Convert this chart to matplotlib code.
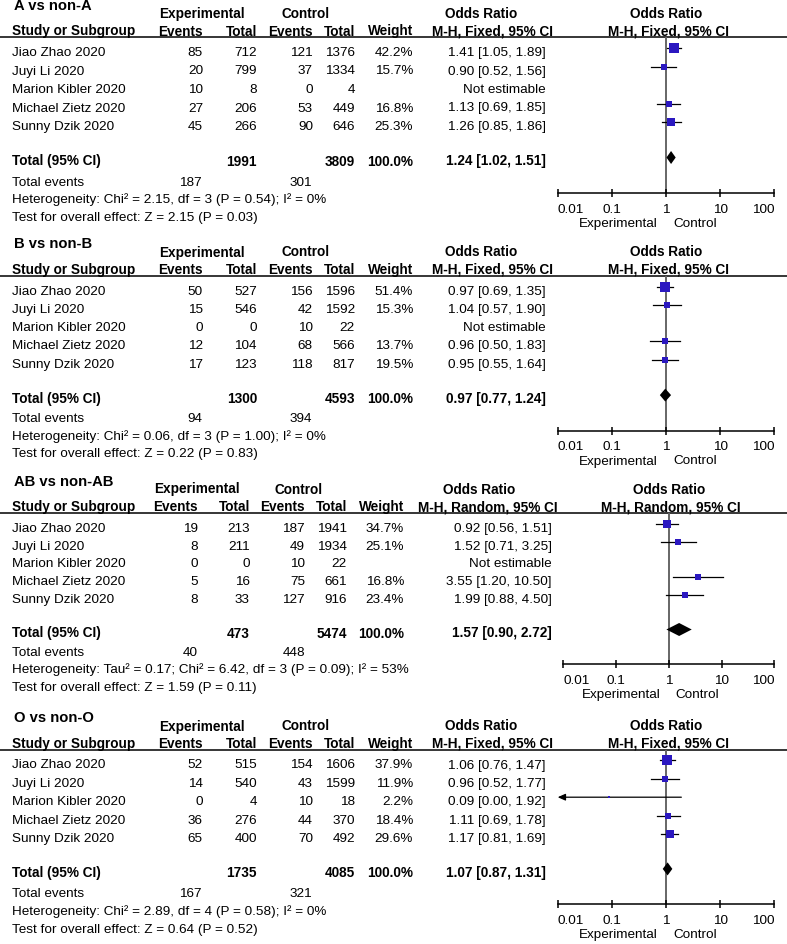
import matplotlib
matplotlib.use('Agg')
import matplotlib.pyplot as plt

plt.rcParams['font.family'] = ['Liberation Sans', 'DejaVu Sans']

W, H = 787, 944
FS = 9.7      # regular text
FS_B = 9.8    # bold headers
FS_T = 10.6   # panel titles
BLUE = '#2b18c0'

studies = ['Jiao Zhao 2020', 'Juyi Li 2020', 'Marion Kibler 2020',
           'Michael Zietz 2020', 'Sunny Dzik 2020']

# ---- A vs non-A
a_exp_events = [85, 20, 10, 27, 45]
a_exp_total = [712, 799, 8, 206, 266]
a_ctl_events = [121, 37, 0, 53, 90]
a_ctl_total = [1376, 1334, 4, 449, 646]
a_weight = [42.2, 15.7, None, 16.8, 25.3]
a_or = [1.41, 0.90, None, 1.13, 1.26]
a_lo = [1.05, 0.52, None, 0.69, 0.85]
a_hi = [1.89, 1.56, None, 1.85, 1.86]
a_total = [1991, 3809, 1.24, 1.02, 1.51]
a_events = [187, 301]
a_het = 'Heterogeneity: Chi² = 2.15, df = 3 (P = 0.54); I² = 0%'
a_test = 'Test for overall effect: Z = 2.15 (P = 0.03)'

# ---- B vs non-B
b_exp_events = [50, 15, 0, 12, 17]
b_exp_total = [527, 546, 0, 104, 123]
b_ctl_events = [156, 42, 10, 68, 118]
b_ctl_total = [1596, 1592, 22, 566, 817]
b_weight = [51.4, 15.3, None, 13.7, 19.5]
b_or = [0.97, 1.04, None, 0.96, 0.95]
b_lo = [0.69, 0.57, None, 0.50, 0.55]
b_hi = [1.35, 1.90, None, 1.83, 1.64]
b_total = [1300, 4593, 0.97, 0.77, 1.24]
b_events = [94, 394]
b_het = 'Heterogeneity: Chi² = 0.06, df = 3 (P = 1.00); I² = 0%'
b_test = 'Test for overall effect: Z = 0.22 (P = 0.83)'

# ---- AB vs non-AB
ab_exp_events = [19, 8, 0, 5, 8]
ab_exp_total = [213, 211, 0, 16, 33]
ab_ctl_events = [187, 49, 10, 75, 127]
ab_ctl_total = [1941, 1934, 22, 661, 916]
ab_weight = [34.7, 25.1, None, 16.8, 23.4]
ab_or = [0.92, 1.52, None, 3.55, 1.99]
ab_lo = [0.56, 0.71, None, 1.20, 0.88]
ab_hi = [1.51, 3.25, None, 10.50, 4.50]
ab_total = [473, 5474, 1.57, 0.90, 2.72]
ab_events = [40, 448]
ab_het = 'Heterogeneity: Tau² = 0.17; Chi² = 6.42, df = 3 (P = 0.09); I² = 53%'
ab_test = 'Test for overall effect: Z = 1.59 (P = 0.11)'

# ---- O vs non-O
o_exp_events = [52, 14, 0, 36, 65]
o_exp_total = [515, 540, 4, 276, 400]
o_ctl_events = [154, 43, 10, 44, 70]
o_ctl_total = [1606, 1599, 18, 370, 492]
o_weight = [37.9, 11.9, 2.2, 18.4, 29.6]
o_or = [1.06, 0.96, 0.09, 1.11, 1.17]
o_lo = [0.76, 0.52, 0.00, 0.69, 0.81]
o_hi = [1.47, 1.77, 1.92, 1.78, 1.69]
o_total = [1735, 4085, 1.07, 0.87, 1.31]
o_events = [167, 321]
o_het = 'Heterogeneity: Chi² = 2.89, df = 4 (P = 0.58); I² = 0%'
o_test = 'Test for overall effect: Z = 0.64 (P = 0.52)'

ticks = [0.01, 0.1, 1, 10, 100]
tick_labels = ['0.01', '0.1', '1', '10', '100']

# column anchors (pixels): right edges of numeric columns, centres of headers
COLS_FIXED = dict(ee=203, et=257, ce=313, ct=355, w=413, orr=546,
                  exp=202, ctl=306, orh=481, mh=492, fh=666, fm=668,
                  tee=202, tce=312, fx0=557.7, fx1=774.3)
COLS_RANDOM = dict(ee=198, et=250, ce=305, ct=347, w=404, orr=552,
                   exp=197, ctl=299, orh=479, mh=488, fh=669, fm=671,
                   tee=198, tce=305, fx0=563.3, fx1=774.3)

panels = [
    dict(title='A vs non-A', ee=a_exp_events, et=a_exp_total, ce=a_ctl_events,
         ct=a_ctl_total, w=a_weight, est=a_or, lo=a_lo, hi=a_hi, tot=a_total,
         ev=a_events, het=a_het, test=a_test, method='M-H, Fixed, 95% CI',
         cols=COLS_FIXED, ly=37, rows=(19, 18.5), offs=(128.5, 148.5, 166, 184.5),
         ax_y=156, sq=1.1),
    dict(title='B vs non-B', ee=b_exp_events, et=b_exp_total, ce=b_ctl_events,
         ct=b_ctl_total, w=b_weight, est=b_or, lo=b_lo, hi=b_hi, tot=b_total,
         ev=b_events, het=b_het, test=b_test, method='M-H, Fixed, 95% CI',
         cols=COLS_FIXED, ly=275.5, rows=(19.3, 18.2), offs=(127.6, 146.6, 164.3, 182),
         ax_y=155, sq=1.1),
    dict(title='AB vs non-AB', ee=ab_exp_events, et=ab_exp_total, ce=ab_ctl_events,
         ct=ab_ctl_total, w=ab_weight, est=ab_or, lo=ab_lo, hi=ab_hi, tot=ab_total,
         ev=ab_events, het=ab_het, test=ab_test, method='M-H, Random, 95% CI',
         cols=COLS_RANDOM, ly=512.5, rows=(19.4, 17.75), offs=(125, 144, 161, 179),
         ax_y=151.5, sq=0.95),
    dict(title='O vs non-O', ee=o_exp_events, et=o_exp_total, ce=o_ctl_events,
         ct=o_ctl_total, w=o_weight, est=o_or, lo=o_lo, hi=o_hi, tot=o_total,
         ev=o_events, het=o_het, test=o_test, method='M-H, Fixed, 95% CI',
         cols=COLS_FIXED, ly=749.5, rows=(19, 18.35), offs=(127.4, 147.4, 165.7, 184),
         ax_y=154.5, sq=1.1),
]


def ci_text(e, l, h):
    return f'{e:.2f} [{l:.2f}, {h:.2f}]'


def draw_panel(fig, bg, p):
    c = p['cols']
    ly = p['ly']
    kw = dict(va='baseline', fontsize=FS)
    kb = dict(va='baseline', fontsize=FS_B, fontweight='bold')

    # titles and headers
    bg.text(14, ly - 27, p['title'], va='baseline', fontsize=FS_T, fontweight='bold')
    bg.text(c['exp'], ly - 19, 'Experimental', ha='center', **kb)
    bg.text(c['ctl'], ly - 19, 'Control', ha='center', **kb)
    bg.text(c['orh'], ly - 19, 'Odds Ratio', ha='center', **kb)
    bg.text(c['fh'], ly - 19, 'Odds Ratio', ha='center', **kb)
    hy = ly - 1.5
    bg.text(12, hy, 'Study or Subgroup', ha='left', **kb)
    bg.text(c['ee'], hy, 'Events', ha='right', **kb)
    bg.text(c['et'], hy, 'Total', ha='right', **kb)
    bg.text(c['ce'], hy, 'Events', ha='right', **kb)
    bg.text(c['ct'], hy, 'Total', ha='right', **kb)
    bg.text(c['w'], hy, 'Weight', ha='right', **kb)
    bg.text(c['mh'], hy, p['method'], ha='center', **kb)
    bg.text(c['fm'], hy, p['method'], ha='center', **kb)
    bg.plot([0, W], [ly, ly], color='black', lw=1.1)

    r0, dr = p['rows']
    ys = [ly + r0 + i * dr for i in range(len(studies))]
    for i, y in enumerate(ys):
        bg.text(12, y, studies[i], ha='left', **kw)
        bg.text(c['ee'], y, str(p['ee'][i]), ha='right', **kw)
        bg.text(c['et'], y, str(p['et'][i]), ha='right', **kw)
        bg.text(c['ce'], y, str(p['ce'][i]), ha='right', **kw)
        bg.text(c['ct'], y, str(p['ct'][i]), ha='right', **kw)
        if p['w'][i] is not None:
            bg.text(c['w'], y, f"{p['w'][i]:.1f}%", ha='right', **kw)
        if p['est'][i] is None:
            bg.text(c['orr'], y, 'Not estimable', ha='right', **kw)
        else:
            bg.text(c['orr'], y, ci_text(p['est'][i], p['lo'][i], p['hi'][i]),
                    ha='right', **kw)

    t_off, e_off, h_off, z_off = p['offs']
    ty = ly + t_off
    te, tc, te_or, te_lo, te_hi = p['tot']
    bg.text(12, ty, 'Total (95% CI)', ha='left', **kb)
    bg.text(c['et'], ty, str(te), ha='right', **kb)
    bg.text(c['ct'], ty, str(tc), ha='right', **kb)
    bg.text(c['w'], ty, '100.0%', ha='right', **kb)
    bg.text(c['orr'], ty, ci_text(te_or, te_lo, te_hi), ha='right', **kb)
    bg.text(12, ly + e_off, 'Total events', ha='left', **kw)
    bg.text(c['tee'], ly + e_off, str(p['ev'][0]), ha='right', **kw)
    bg.text(c['tce'], ly + e_off, str(p['ev'][1]), ha='right', **kw)
    bg.text(12, ly + h_off, p['het'], ha='left', **kw)
    bg.text(12, ly + z_off, p['test'], ha='left', **kw)

    # forest plot axes, y measured in figure pixels
    axy = ly + p['ax_y']
    ax = fig.add_axes([c['fx0'] / W, 1 - axy / H, (c['fx1'] - c['fx0']) / W, (axy - ly) / H])
    ax.set_facecolor('none')
    ax.set_xscale('log')
    ax.set_xlim(0.01, 100)
    ax.set_ylim(axy, ly)
    for s in ['top', 'left', 'right']:
        ax.spines[s].set_visible(False)
    ax.spines['bottom'].set_linewidth(1.1)
    ax.set_yticks([])
    ax.set_xticks(ticks)
    ax.set_xticklabels(tick_labels)
    ax.minorticks_off()
    ax.tick_params(axis='x', direction='inout', length=5.5, width=1.1, pad=5, labelsize=FS)
    labels = ax.get_xticklabels()
    labels[0].set_ha('left')
    labels[-1].set_ha('right')
    ax.axvline(1, color='#666666', lw=1.4, zorder=1)

    for i, y in enumerate(ys):
        if p['est'][i] is None:
            continue
        my = y - 8
        lo = p['lo'][i]
        if lo < 0.01:
            ax.annotate('', xy=(0.01, my), xytext=(p['hi'][i], my),
                        arrowprops=dict(arrowstyle='-|>,head_length=0.45,head_width=0.2',
                                        color='black', lw=0.9, shrinkA=0, shrinkB=0),
                        annotation_clip=False)
        else:
            ax.plot([lo, p['hi'][i]], [my, my], color='black', lw=0.9, zorder=2)
        ax.plot([p['est'][i]], [my], marker='s', ms=p['sq'] * p['w'][i] ** 0.5,
                color=BLUE, mec=BLUE, mew=0, zorder=3, clip_on=False)

    dy = ty - 8
    ax.fill([te_lo, te_or, te_hi, te_or], [dy, dy - 6.5, dy, dy + 6.5],
            color='black', zorder=3, lw=0)

    ax.annotate('Experimental', xy=(1, 0), xycoords=('data', 'axes fraction'),
                xytext=(-8, -34), textcoords='offset pixels', ha='right',
                va='baseline', fontsize=FS)
    ax.annotate('Control', xy=(1, 0), xycoords=('data', 'axes fraction'),
                xytext=(7, -34), textcoords='offset pixels', ha='left',
                va='baseline', fontsize=FS)


fig = plt.figure(figsize=(W / 100, H / 100), dpi=100)
bg = fig.add_axes([0, 0, 1, 1])
bg.set_xlim(0, W)
bg.set_ylim(H, 0)
bg.axis('off')

for p in panels:
    draw_panel(fig, bg, p)

fig.savefig('out.png', dpi=100, facecolor='white')
